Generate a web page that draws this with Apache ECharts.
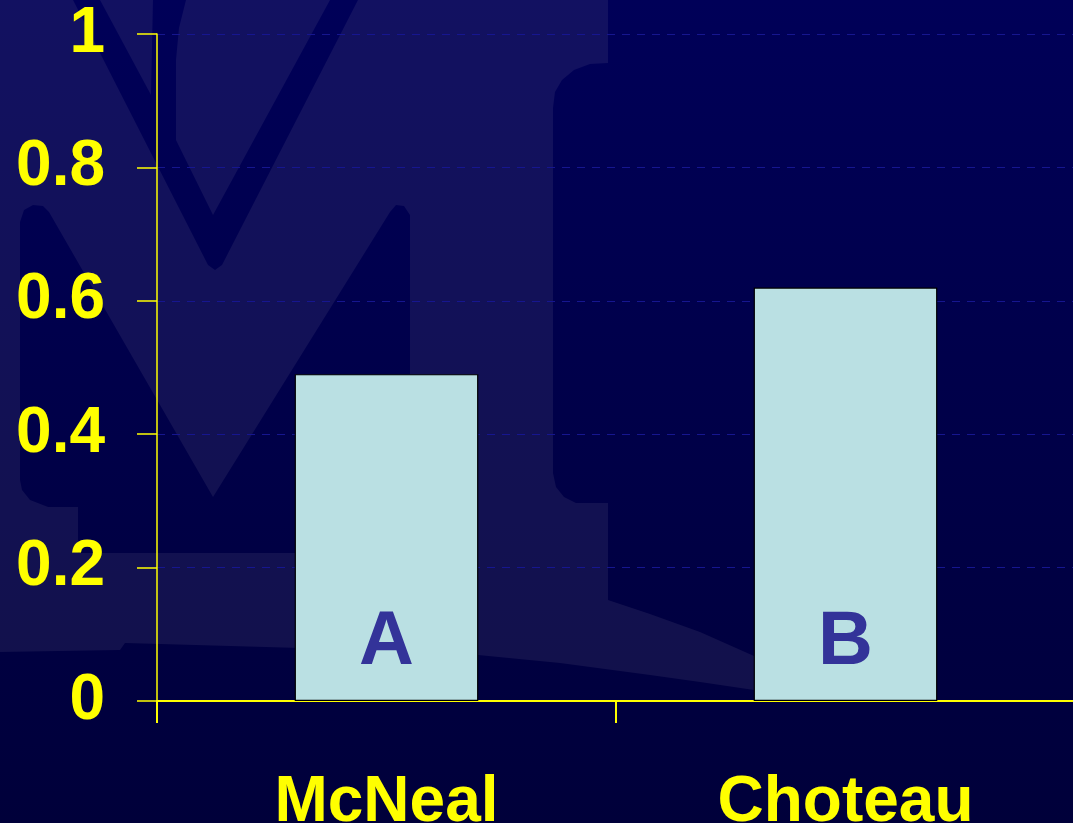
<!DOCTYPE html>
<html>
<head>
<meta charset="utf-8">
<script src="https://cdn.jsdelivr.net/npm/echarts@6/dist/echarts.min.js"></script>
<style>
  html, body { margin: 0; padding: 0; background: #00004a; }
  #chart { width: 1073px; height: 823px; }
</style>
</head>
<body>
<div id="chart"></div>
<script>
// Chart data
const categories = ['McNeal', 'Choteau'];
const values = [0.49, 0.62];
const barLetters = ['A', 'B'];
const yTickValues = [0, 0.2, 0.4, 0.6, 0.8, 1];
const yTickLabels = ['0', '0.2', '0.4', '0.6', '0.8', '1'];

const FONT = '"Liberation Sans", Arial, Helvetica, sans-serif';
const YELLOW = '#ffff00';

// Navy backdrop shared by the base and the dark parts of the logo
const navy = {
  type: 'linear', x: 0, y: 0, x2: 0, y2: 823, global: true,
  colorStops: [
    { offset: 0, color: '#000058' },
    { offset: 1, color: '#00003a' }
  ]
};
const haze = 'rgba(140,130,165,0.13)';

// Faint "VM" logo watermark behind the plot
const watermark = [
  { type: 'rect', z: -10, silent: true, shape: { x: 0, y: 0, width: 1073, height: 823 }, style: { fill: navy } },
  { type: 'polygon', z: -9, silent: true, shape: { points: [
      [0, 0], [608, 0], [608, 63], [590, 64], [574, 70], [562, 80], [555, 92], [553, 108],
      [553, 473], [556, 487], [564, 497], [576, 503], [608, 503], [608, 600],
      [650, 614], [700, 632], [754, 656], [790, 675], [800, 692],
      [754, 690], [700, 682], [650, 675], [560, 663], [478, 655], [300, 648],
      [125, 643], [120, 650], [0, 652]
    ] }, style: { fill: haze } },
  // upper V
  { type: 'polygon', z: -8, silent: true, shape: { points: [
      [73, 0], [186, 0], [179, 28], [176, 60], [176, 140], [213, 215],
      [330, 0], [358, 0], [222, 265], [215, 270], [208, 265]
    ] }, style: { fill: navy } },
  // lower M
  { type: 'polygon', z: -8, silent: true, shape: { points: [
      [20, 222], [24, 210], [33, 205], [43, 206], [49, 212],
      [213, 497],
      [390, 212], [396, 205], [404, 206], [410, 215],
      [410, 553], [78, 553], [78, 507], [48, 507], [30, 500], [22, 490], [20, 480]
    ] }, style: { fill: navy } },
  // light wedge inside the V's left arm
  { type: 'polygon', z: -7, silent: true, shape: { points: [[100, 0], [153, 0], [151, 95]] }, style: { fill: haze } }
];

const chart = echarts.init(document.getElementById('chart'), null, { renderer: 'canvas' });

chart.setOption({
  backgroundColor: 'transparent',
  animation: false,
  graphic: { elements: watermark },
  grid: { left: 157, top: 34, bottom: 122, right: -2, containLabel: false, outerBoundsMode: 'none' },
  xAxis: {
    type: 'category',
    data: categories,
    boundaryGap: true,
    axisLine: { show: true, lineStyle: { color: YELLOW, width: 2, opacity: 1 } },
    axisTick: { show: true, length: 22, inside: false, alignWithLabel: false, lineStyle: { color: YELLOW, width: 2, opacity: 1 } },
    axisLabel: {
      interval: 0, margin: 70, color: YELLOW,
      fontFamily: FONT, fontWeight: 'bold', fontSize: 64
    },
    splitLine: { show: false }
  },
  yAxis: {
    type: 'value',
    min: yTickValues[0],
    max: yTickValues[yTickValues.length - 1],
    interval: 0.2,
    axisLine: { show: true, lineStyle: { color: YELLOW, width: 1.5, opacity: 1 } },
    axisTick: { show: true, length: 20, inside: false, lineStyle: { color: YELLOW, width: 1.5, opacity: 1 } },
    axisLabel: {
      margin: 52, color: YELLOW,
      fontFamily: FONT, fontWeight: 'bold', fontSize: 64,
      padding: [10, 0, 0, 0],
      formatter: function (v) {
        const i = yTickValues.findIndex(t => Math.abs(t - v) < 1e-9);
        return i >= 0 ? yTickLabels[i] : '';
      }
    },
    splitLine: { show: true, lineStyle: { color: '#16168f', width: 1, type: [8, 7] } }
  },
  series: [{
    type: 'bar',
    data: values,
    barWidth: '40%',
    itemStyle: { color: '#bae0e3', borderColor: '#000000', borderWidth: 1.2 },
    label: {
      show: true,
      position: 'insideBottom',
      distance: 20,
      formatter: function (p) { return barLetters[p.dataIndex]; },
      color: '#333399',
      fontFamily: FONT, fontWeight: 'bold', fontSize: 76
    }
  }]
});
</script>
</body>
</html>
